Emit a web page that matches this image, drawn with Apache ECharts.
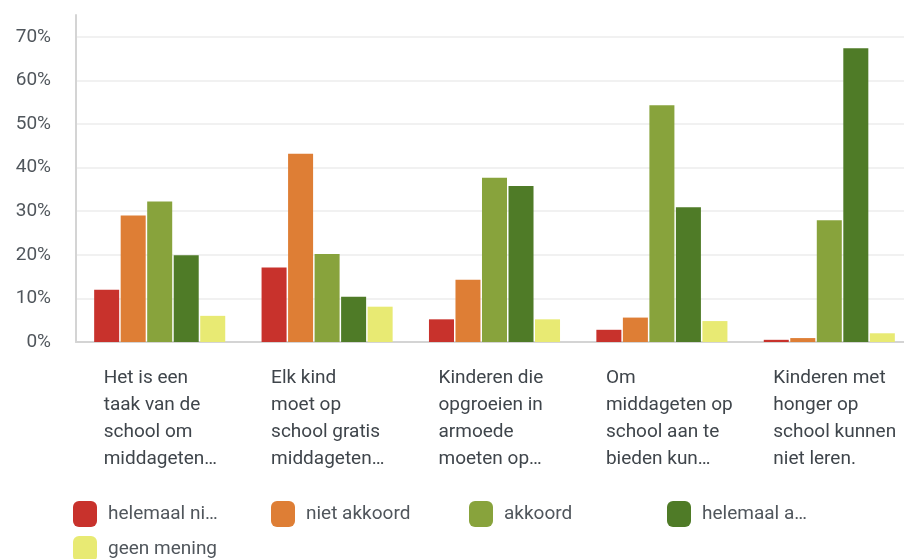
<!DOCTYPE html>
<html>
<head>
<meta charset="utf-8">
<script src="https://cdn.jsdelivr.net/npm/echarts@6/dist/echarts.min.js"></script>
<style>
  html, body { margin: 0; padding: 0; background: #fff; }
  #main { width: 904px; height: 559px; }
</style>
</head>
<body>
<div id="main"></div>
<script>
// statements (already cut short like in the survey tool)
var categories = [
    'Het is een\ntaak van de\nschool om\nmiddageten…',
    'Elk kind\nmoet op\nschool gratis\nmiddageten…',
    'Kinderen die\nopgroeien in\narmoede\nmoeten op…',
    'Om\nmiddageten op\nschool aan te\nbieden kun…',
    'Kinderen met\nhonger op\nschool kunnen\nniet leren.'
];

var seriesNames = ['helemaal niet akkoord', 'niet akkoord', 'akkoord', 'helemaal akkoord', 'geen mening'];
var legendLabels = ['helemaal ni…', 'niet akkoord', 'akkoord', 'helemaal a…', 'geen mening'];
var colors = ['#c8322c', '#de7e35', '#88a33c', '#4f7b27', '#e8ea73'];

// percentages per answer, one value per statement
var heleNiet = [12, 17.1, 5.2, 2.8, 0.5];
var niet     = [29, 43.2, 14.3, 5.6, 0.9];
var akkoord  = [32.2, 20.2, 37.7, 54.3, 27.9];
var heleWel  = [19.9, 10.4, 35.8, 30.9, 67.4];
var geen     = [6, 8.1, 5.2, 4.8, 2];

var values = [heleNiet, niet, akkoord, heleWel, geen];

var fontFamily = 'Roboto, sans-serif';

var myChart = echarts.init(document.getElementById('main'));

var series = seriesNames.map(function (name, i) {
    return {
        name: name,
        type: 'bar',
        data: values[i],
        barGap: '6%',
        barCategoryGap: '21.7%',
        itemStyle: { color: colors[i] }
    };
});

// legend laid out as a fixed grid: 4 per row, 198px apart
var legends = seriesNames.map(function (name, i) {
    return {
        data: [name],
        left: 73 + (i % 4) * 198,
        top: 501 + Math.floor(i / 4) * 35,
        padding: 0,
        itemWidth: 24,
        itemHeight: 26,
        icon: 'roundRect',
        formatter: function () {
            return legendLabels[i];
        },
        textStyle: {
            fontFamily: fontFamily,
            fontSize: 19,
            color: '#50565c',
            padding: [0, 0, 0, 6]
        }
    };
});

var option = {
    animation: false,
    color: colors,
    grid: {
        left: 76,
        width: 837,
        top: 15,
        bottom: 217,
        outerBoundsMode: 'none'
    },
    legend: legends,
    xAxis: {
        type: 'category',
        data: categories,
        axisLine: { lineStyle: { color: '#d4d4d4', width: 2 } },
        axisTick: { show: false },
        axisLabel: {
            interval: 0,
            margin: 23,
            formatter: function (value) {
                return value.split('\n').map(function (line) {
                    return '{a|' + line + '}';
                }).join('\n');
            },
            rich: {
                a: {
                    width: 112,
                    align: 'left',
                    lineHeight: 27,
                    fontFamily: fontFamily,
                    fontSize: 19,
                    color: '#3f454b'
                }
            }
        }
    },
    yAxis: {
        type: 'value',
        min: 0,
        max: 75,
        interval: 10,
        axisLine: { show: true, lineStyle: { color: '#d4d4d4', width: 2 } },
        axisTick: { show: false },
        splitLine: {
            showMaxLine: false,
            lineStyle: { color: '#ececec', width: 1.5 }
        },
        axisLabel: {
            margin: 25,
            fontFamily: fontFamily,
            fontSize: 19,
            color: '#50565c',
            showMaxLabel: false,
            formatter: function (v) {
                return v % 10 === 0 ? v + '%' : '';
            }
        }
    },
    series: series
};

myChart.setOption(option);
</script>
</body>
</html>
